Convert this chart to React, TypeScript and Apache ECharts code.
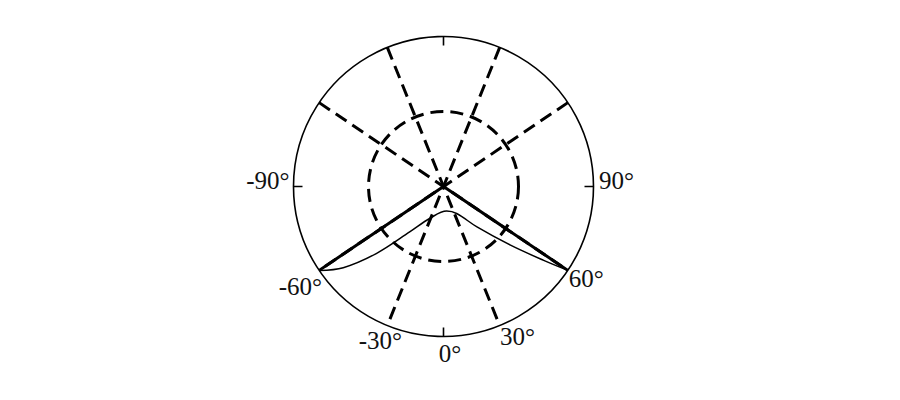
import { useEffect, useRef } from "react";
import * as echarts from "echarts";

// spokes drawn as dashed diameters, [start angle, end angle] in degrees (0 = down, 90 = right)
const dashedDiameters: [number, number][] = [
  [-158, 22],
  [158, -22],
  [-124, 56],
  [124, -56],
];
// solid spokes from the centre
const solidSpokes = [-56, 56];
// thin solid pattern curve
const curveAngle = [-56, -51, -45, -36.5, -23, 7.4, 26, 39.6, 48.7, 53.6, 56];
const curveRadius = [1.0, 0.86, 0.63, 0.375, 0.23, 0.165, 0.2, 0.35, 0.59, 0.83, 1.0];
// dashed reference circle
const innerCircle = 0.5;
// labels on the axis
const mainLabels = [-90, 0, 90];
const sideLabels = [-60, -30, 30, 60];

const FONT = "Liberation Serif";

// small offsets [top, right, bottom, left] to put each label where it sits in the figure
const labelPad: Record<string, number[]> = {
  "-90": [0, 0, 13, 0],
  "90": [0, 0, 13, 1.5],
  "0": [0, 0, 0, 13],
  "-60": [10.5, -12, 0, 0],
  "-30": [8, -35.5, 0, 0],
  "30": [4, 0, 0, -20.5],
  "60": [2.5, 0, 0, -8],
};

const key = (v: number) => (v < 0 ? "m" : "p") + Math.abs(v);

const rich: Record<string, any> = {};
Object.keys(labelPad).forEach((k) => {
  rich[key(Number(k))] = {
    fontFamily: FONT,
    fontSize: 25,
    color: "#111",
    padding: labelPad[k],
  };
});

const labelFormatter = (list: number[]) => (v: number) =>
  list.includes(v) ? `{${key(v)}|${v}°}` : "";

export default function App() {
  const chartRef = useRef<HTMLDivElement>(null);

  useEffect(() => {
    document.body.style.margin = "0";
    if (!chartRef.current) return;
    const chart = echarts.init(chartRef.current, null, { renderer: "svg" });

    const polarBase = { center: [443.5, 186.5], radius: 150 };

    const option: echarts.EChartsOption = {
      animation: false,
      backgroundColor: "#fff",
      polar: [polarBase, polarBase],
      angleAxis: [
        {
          polarIndex: 0,
          type: "value",
          min: -180,
          max: 180,
          interval: 90,
          startAngle: 90,
          clockwise: false,
          axisLine: { lineStyle: { color: "#000", width: 1.6 } },
          axisTick: { inside: true, length: 9, lineStyle: { color: "#000", width: 1.6 } },
          splitLine: { show: false },
          axisLabel: {
            margin: 4,
            formatter: labelFormatter(mainLabels),
            rich,
          },
        },
        {
          polarIndex: 1,
          type: "value",
          min: -180,
          max: 180,
          interval: 30,
          startAngle: 90,
          clockwise: false,
          axisLine: { show: false },
          axisTick: { show: false },
          splitLine: { show: false },
          axisLabel: {
            margin: 4,
            formatter: labelFormatter(sideLabels),
            rich,
          },
        },
      ],
      radiusAxis: [
        {
          polarIndex: 0,
          type: "value",
          min: 0,
          max: 1,
          interval: innerCircle,
          axisLine: { show: false },
          axisTick: { show: false },
          axisLabel: { show: false },
          splitLine: {
            show: true,
            lineStyle: {
              color: ["rgba(0,0,0,0)", "#000", "rgba(0,0,0,0)"],
              width: 3,
              type: [13, 7],
            },
          },
        },
        {
          polarIndex: 1,
          type: "value",
          min: 0,
          max: 1,
          axisLine: { show: false },
          axisTick: { show: false },
          axisLabel: { show: false },
          splitLine: { show: false },
        },
      ],
      series: [
        ...dashedDiameters.map((d) => ({
          type: "line" as const,
          coordinateSystem: "polar",
          polarIndex: 0,
          symbol: "none",
          silent: true,
          lineStyle: { color: "#000", width: 3, type: [13, 7] as number[] },
          data: [
            [1, d[0]],
            [1, d[1]],
          ],
        })),
        {
          type: "line",
          coordinateSystem: "polar",
          polarIndex: 0,
          symbol: "none",
          silent: true,
          lineStyle: { color: "#000", width: 3 },
          data: [
            [1, solidSpokes[0]],
            [0, 0],
            [1, solidSpokes[1]],
          ],
        },
        {
          type: "line",
          coordinateSystem: "polar",
          polarIndex: 0,
          symbol: "none",
          silent: true,
          smooth: 0.35,
          lineStyle: { color: "#000", width: 1.5 },
          data: curveAngle.map((a, i) => [curveRadius[i], a]),
        },
      ],
    };

    chart.setOption(option);
    return () => {
      chart.dispose();
    };
  }, []);

  return <div ref={chartRef} style={{ width: 900, height: 400 }} />;
}
